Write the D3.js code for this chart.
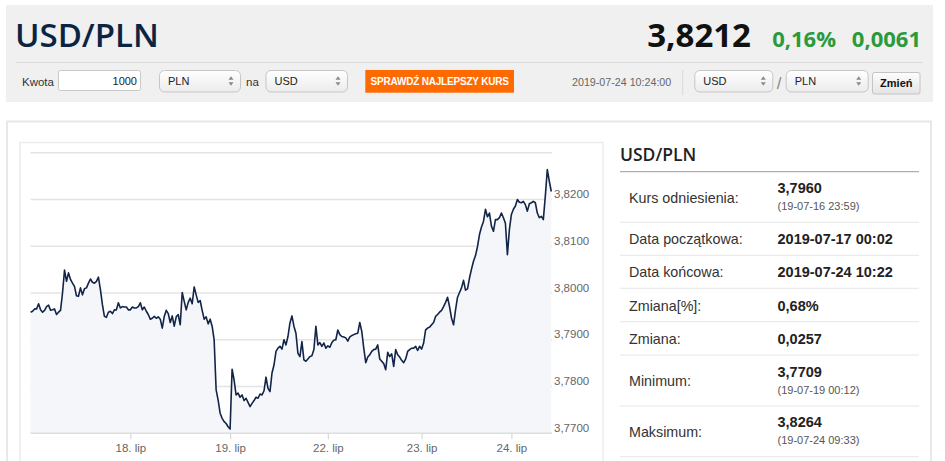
<!DOCTYPE html>
<html>
<head>
<meta charset="utf-8">
<style>
  body { margin: 0; background: #fff; }
  svg { display: block; }
</style>
<script src="https://d3js.org/d3.v7.min.js"></script>
</head>
<body>
<script>
// ---- DATA ----
var pairName = "USD/PLN";
var lastRate = "3,8212";
var changePct = "0,16%";
var changeAbs = "0,0061";
var amount = "1000";
var fromCur = "PLN";
var toCur = "USD";
var bestRateLabel = "SPRAWDŹ NAJLEPSZY KURS";
var stamp = "2019-07-24 10:24:00";
var baseCur = "USD";
var quoteCur = "PLN";
var swapLabel = "Zmień";

// trading days shown on the (ordinal) x axis, weekend skipped
var dayLabels = ["17. lip", "18. lip", "19. lip", "22. lip", "23. lip", "24. lip"];

// USD/PLN quotes per day, evenly spaced in time
var jul17 = [3.7959, 3.7961, 3.7966, 3.7966, 3.7977, 3.7964, 3.7959, 3.7963, 3.7971, 3.7974,
  3.7963, 3.7964, 3.7966, 3.7954, 3.7959, 3.7963, 3.8000, 3.8049, 3.8025, 3.8043,
  3.8029, 3.8021, 3.8014, 3.7994, 3.7993, 3.8011, 3.7996, 3.8009, 3.8011, 3.8021,
  3.8030, 3.8023, 3.8021, 3.8025, 3.8034, 3.8007, 3.7975, 3.7950, 3.7948, 3.7959,
  3.7961, 3.7956, 3.7964, 3.7964, 3.7979, 3.7968, 3.7971, 3.7970, 3.7970, 3.7964];
var jul18 = [3.7964, 3.7970, 3.7968, 3.7968, 3.7971, 3.7979, 3.7964, 3.7970, 3.7961, 3.7954,
  3.7944, 3.7946, 3.7950, 3.7946, 3.7949, 3.7944, 3.7925, 3.7950, 3.7963, 3.7956,
  3.7937, 3.7951, 3.7929, 3.7949, 3.7954, 3.7932, 3.8001, 3.7982, 3.7964, 3.7980,
  3.7989, 3.7977, 3.8013, 3.7996, 3.7980, 3.7984, 3.7963, 3.7944, 3.7949, 3.7934,
  3.7944, 3.7929, 3.7900, 3.7793, 3.7771, 3.7743, 3.7732, 3.7725, 3.7721, 3.7714];
var jul19 = [3.7709, 3.7837, 3.7814, 3.7782, 3.7786, 3.7777, 3.7782, 3.7770, 3.7775, 3.7766,
  3.7757, 3.7764, 3.7770, 3.7777, 3.7775, 3.7784, 3.7782, 3.7791, 3.7820, 3.7796,
  3.7789, 3.7829, 3.7846, 3.7875, 3.7882, 3.7886, 3.7880, 3.7900, 3.7889, 3.7907,
  3.7936, 3.7951, 3.7929, 3.7914, 3.7871, 3.7864, 3.7896, 3.7857, 3.7854, 3.7859,
  3.7864, 3.7866, 3.7879, 3.7929, 3.7889, 3.7894, 3.7886, 3.7893, 3.7882];
var jul22 = [3.7887, 3.7884, 3.7894, 3.7899, 3.7900, 3.7921, 3.7911, 3.7907, 3.7906, 3.7904,
  3.7897, 3.7906, 3.7909, 3.7911, 3.7913, 3.7914, 3.7937, 3.7918, 3.7882, 3.7851,
  3.7863, 3.7868, 3.7875, 3.7879, 3.7880, 3.7889, 3.7859, 3.7854, 3.7849, 3.7836,
  3.7873, 3.7864, 3.7870, 3.7843, 3.7879, 3.7868, 3.7863, 3.7856, 3.7851, 3.7859,
  3.7875, 3.7879, 3.7882, 3.7882, 3.7886, 3.7877, 3.7886];
var jul23 = [3.7880, 3.7893, 3.7921, 3.7925, 3.7927, 3.7932, 3.7937, 3.7950, 3.7954, 3.7959,
  3.7963, 3.7971, 3.7980, 3.7991, 3.7971, 3.7946, 3.7932, 3.7964, 3.7991, 3.8001,
  3.8011, 3.8027, 3.8006, 3.8009, 3.8032, 3.8051, 3.8068, 3.8080, 3.8099, 3.8125,
  3.8141, 3.8153, 3.8179, 3.8163, 3.8171, 3.8143, 3.8132, 3.8157, 3.8157, 3.8161,
  3.8171, 3.8161, 3.8149, 3.8082, 3.8136];
var jul24 = [3.8168, 3.8179, 3.8186, 3.8200, 3.8194, 3.8193, 3.8196, 3.8189, 3.8175, 3.8191,
  3.8193, 3.8196, 3.8193, 3.8171, 3.8161, 3.8164, 3.8157, 3.8207, 3.8264, 3.8239,
  3.8217];

var yTicks = [3.77, 3.78, 3.79, 3.80, 3.81, 3.82, 3.83];

var statLabels = ["Kurs odniesienia:", "Data początkowa:", "Data końcowa:", "Zmiana[%]:", "Zmiana:", "Minimum:", "Maksimum:"];
var statValues = ["3,7960", "2019-07-17 00:02", "2019-07-24 10:22", "0,68%", "0,0257", "3,7709", "3,8264"];
var statNotes = ["(19-07-16 23:59)", "", "", "", "", "(19-07-19 00:12)", "(19-07-24 09:33)"];

// ---- LAYOUT ----
var W = 945, H = 461;
var sans = "'Liberation Sans', Arial, sans-serif";
var head = "'Open Sans', 'Noto Sans', sans-serif";
var plot = {left: 30.6, right: 552, dataRight: 551.3, top: 152.7, bottom: 433.3};
var rowEdges = [171.7, 222.3, 255.3, 288.3, 321.7, 355, 406, 456.7];

var svg = d3.select("body").append("svg")
  .attr("width", W)
  .attr("height", H);

var defs = svg.append("defs");
function grad(id, c0, c1) {
  var g = defs.append("linearGradient").attr("id", id)
    .attr("x1", 0).attr("y1", 0).attr("x2", 0).attr("y2", 1);
  g.append("stop").attr("offset", "0%").attr("stop-color", c0);
  g.append("stop").attr("offset", "100%").attr("stop-color", c1);
}
grad("selGrad", "#ffffff", "#ebebeb");
grad("btnGrad", "#fdfdfd", "#e4e4e4");

/*
 ================= HEADER =====================
 */
function drawHeader() {
  var g = svg.append("g").attr("class", "header");

  g.append("rect").attr("x", 6).attr("y", 5).attr("width", 927).attr("height", 97)
    .attr("fill", "#f0f0f0");

  g.append("line").attr("x1", 16).attr("x2", 923).attr("y1", 62.5).attr("y2", 62.5)
    .attr("stroke", "#dcdcdc");

  g.append("text").attr("x", 15).attr("y", 46.7)
    .attr("font-family", head).attr("font-weight", 600).attr("font-size", 33)
    .attr("fill", "#0c2444").text(pairName);

  g.append("text").attr("x", 751).attr("y", 46.7).attr("text-anchor", "end")
    .attr("font-family", head).attr("font-weight", 700).attr("font-size", 33)
    .attr("fill", "#111").text(lastRate);

  g.append("text").attr("x", 836).attr("y", 46.7).attr("text-anchor", "end")
    .attr("font-family", head).attr("font-weight", 700).attr("font-size", 22)
    .attr("fill", "#2a9a3b").text(changePct);

  g.append("text").attr("x", 921).attr("y", 46.7).attr("text-anchor", "end")
    .attr("font-family", head).attr("font-weight", 700).attr("font-size", 22)
    .attr("fill", "#2a9a3b").text(changeAbs);

  // -- converter row
  g.append("text").attr("x", 22).attr("y", 85.5)
    .attr("font-family", sans).attr("font-size", 11.5).attr("fill", "#333").text("Kwota");

  g.append("rect").attr("x", 58.5).attr("y", 70.5).attr("width", 82).attr("height", 20)
    .attr("rx", 2).attr("fill", "#fff").attr("stroke", "#c9c9c9");
  g.append("text").attr("x", 137).attr("y", 85).attr("text-anchor", "end")
    .attr("font-family", sans).attr("font-size", 11).attr("fill", "#222").text(amount);

  drawSelect(g, 159, 70, 81, 21.5, fromCur);
  g.append("text").attr("x", 246).attr("y", 85.5)
    .attr("font-family", sans).attr("font-size", 11.5).attr("fill", "#333").text("na");
  drawSelect(g, 265.5, 70, 81.5, 21.5, toCur);

  g.append("rect").attr("x", 365.3).attr("y", 70).attr("width", 148.7).attr("height", 22.7)
    .attr("fill", "#ff6a00");
  g.append("text").attr("x", 439.6).attr("y", 85.3).attr("text-anchor", "middle")
    .attr("font-family", sans).attr("font-weight", 700).attr("font-size", 10)
    .attr("letter-spacing", -0.2)
    .attr("fill", "#fff").text(bestRateLabel);

  g.append("text").attr("x", 572).attr("y", 86)
    .attr("font-family", sans).attr("font-size", 10.7).attr("fill", "#666").text(stamp);

  g.append("line").attr("x1", 682.7).attr("x2", 682.7).attr("y1", 70).attr("y2", 95)
    .attr("stroke", "#dadada");

  drawSelect(g, 694.3, 70, 78, 21.5, baseCur);
  g.append("text").attr("x", 779).attr("y", 89).attr("text-anchor", "middle")
    .attr("font-family", sans).attr("font-size", 17).attr("fill", "#888").text("/");
  drawSelect(g, 785.7, 70, 82, 21.5, quoteCur);

  g.append("rect").attr("x", 872.5).attr("y", 72.5).attr("width", 47.5).attr("height", 21.5)
    .attr("rx", 2).attr("fill", "url(#btnGrad)").attr("stroke", "#c4c4c4");
  g.append("text").attr("x", 896.3).attr("y", 87).attr("text-anchor", "middle")
    .attr("font-family", sans).attr("font-weight", 700).attr("font-size", 11)
    .attr("fill", "#111").text(swapLabel);
}

function drawSelect(g, x, y, w, h, label) {
  var s = g.append("g").attr("transform", "translate(" + x + "," + y + ")");
  s.append("rect").attr("x", 0.5).attr("y", 0.5).attr("width", w).attr("height", h)
    .attr("rx", 5).attr("fill", "url(#selGrad)").attr("stroke", "#c6c6c6");
  s.append("text").attr("x", 9).attr("y", 15)
    .attr("font-family", sans).attr("font-size", 11).attr("fill", "#222").text(label);
  var ax = w - 9, ay = h / 2;
  s.append("path").attr("d", "M" + (ax - 2.5) + "," + (ay - 1) + "L" + ax + "," + (ay - 4.5) + "L" + (ax + 2.5) + "," + (ay - 1) + "Z")
    .attr("fill", "#8a8a8a");
  s.append("path").attr("d", "M" + (ax - 2.5) + "," + (ay + 1.5) + "L" + ax + "," + (ay + 5) + "L" + (ax + 2.5) + "," + (ay + 1.5) + "Z")
    .attr("fill", "#8a8a8a");
}

/*
 ================= CHART =====================
 */
function drawChart() {
  var days = [jul17, jul18, jul19, jul22, jul23, jul24];
  var series = [];
  var dayStart = [];
  days.forEach(function (d) {
    dayStart.push(series.length);
    d.forEach(function (v) { series.push(v); });
  });

  var x = d3.scaleLinear().domain([0, series.length - 1]).range([plot.left, plot.dataRight]);
  var y = d3.scaleLinear().domain([yTicks[0], yTicks[yTicks.length - 1]]).range([plot.bottom, plot.top]);
  var fmt = function (v) { return d3.format(".4f")(v).replace(".", ","); };

  var g = svg.append("g").attr("class", "chart");

  g.append("rect").attr("x", 20).attr("y", 142.5).attr("width", 583).attr("height", 330)
    .attr("fill", "#fff").attr("stroke", "#ececec").attr("stroke-width", 1.5);

  // grid
  g.selectAll(".grid").data(yTicks).enter().append("line")
    .attr("class", "grid")
    .attr("x1", plot.left).attr("x2", plot.right)
    .attr("y1", function (d) { return y(d); })
    .attr("y2", function (d) { return y(d); })
    .attr("stroke", "#e4e4e4").attr("stroke-width", 1.5);

  // area + line
  var area = d3.area()
    .x(function (d, i) { return x(i); })
    .y0(plot.bottom)
    .y1(function (d) { return y(d); });
  var line = d3.line()
    .x(function (d, i) { return x(i); })
    .y(function (d) { return y(d); });

  g.append("path").datum(series).attr("d", area).attr("fill", "#f4f6f9");
  g.append("line").attr("x1", plot.left).attr("x2", plot.right)
    .attr("y1", plot.bottom).attr("y2", plot.bottom)
    .attr("stroke", "#dedede").attr("stroke-width", 1.5);
  g.append("path").datum(series).attr("d", line)
    .attr("fill", "none").attr("stroke", "#122548").attr("stroke-width", 1.6)
    .attr("stroke-linejoin", "round");

  // x axis (day ticks)
  var xAxis = d3.axisBottom(x)
    .tickValues(dayStart.slice(1))
    .tickFormat(function (d, i) { return dayLabels[i + 1]; })
    .tickSize(6).tickPadding(5);
  var gx = g.append("g").attr("transform", "translate(0," + plot.bottom + ")").call(xAxis);
  gx.select(".domain").remove();
  gx.selectAll(".tick line").attr("stroke", "#d8d8d8").attr("stroke-width", 1.2);
  gx.selectAll(".tick text")
    .attr("font-family", sans).attr("font-size", 11.5).attr("fill", "#666");

  // y axis labels on the right
  var yAxis = d3.axisRight(y)
    .tickValues(yTicks.slice(0, -1))
    .tickFormat(fmt)
    .tickSize(0).tickPadding(2);
  var gy = g.append("g").attr("transform", "translate(" + plot.right + ",0)").call(yAxis);
  gy.select(".domain").remove();
  gy.selectAll(".tick text")
    .attr("dy", null).attr("y", -2)
    .attr("font-family", sans).attr("font-size", 11.5).attr("fill", "#666");
}

/*
 ================= TABLE =====================
 */
function drawTable() {
  var g = svg.append("g").attr("class", "stats");
  var left = 620, right = 919;

  g.append("text").attr("x", left).attr("y", 161)
    .attr("font-family", head).attr("font-weight", 600).attr("font-size", 17.5)
    .attr("fill", "#222").text(pairName);

  g.append("line").attr("x1", left).attr("x2", right)
    .attr("y1", rowEdges[0]).attr("y2", rowEdges[0]).attr("stroke", "#9a9a9a");

  statLabels.forEach(function (label, i) {
    var top = rowEdges[i], bottom = rowEdges[i + 1];
    var mid = (top + bottom) / 2;
    var hasNote = statNotes[i] !== "";

    g.append("line").attr("x1", left).attr("x2", right)
      .attr("y1", bottom).attr("y2", bottom).attr("stroke", "#e6e6e6");

    g.append("text").attr("x", 629).attr("y", mid + 5.5)
      .attr("font-family", sans).attr("font-size", 14.3).attr("fill", "#333").text(label);

    g.append("text").attr("x", 777.5).attr("y", hasNote ? mid - 4 : mid + 5.5)
      .attr("font-family", sans).attr("font-weight", 700).attr("font-size", 14.5)
      .attr("fill", "#222").text(statValues[i]);

    if (hasNote) {
      g.append("text").attr("x", 777.5).attr("y", mid + 13)
        .attr("font-family", sans).attr("font-size", 11).attr("fill", "#555").text(statNotes[i]);
    }
  });
}

// main white box
svg.append("rect").attr("x", 7).attr("y", 121.5).attr("width", 924).attr("height", 350)
  .attr("fill", "#fff").attr("stroke", "#e8e8e8").attr("stroke-width", 2);

drawHeader();
drawChart();
drawTable();
</script>
</body>
</html>
